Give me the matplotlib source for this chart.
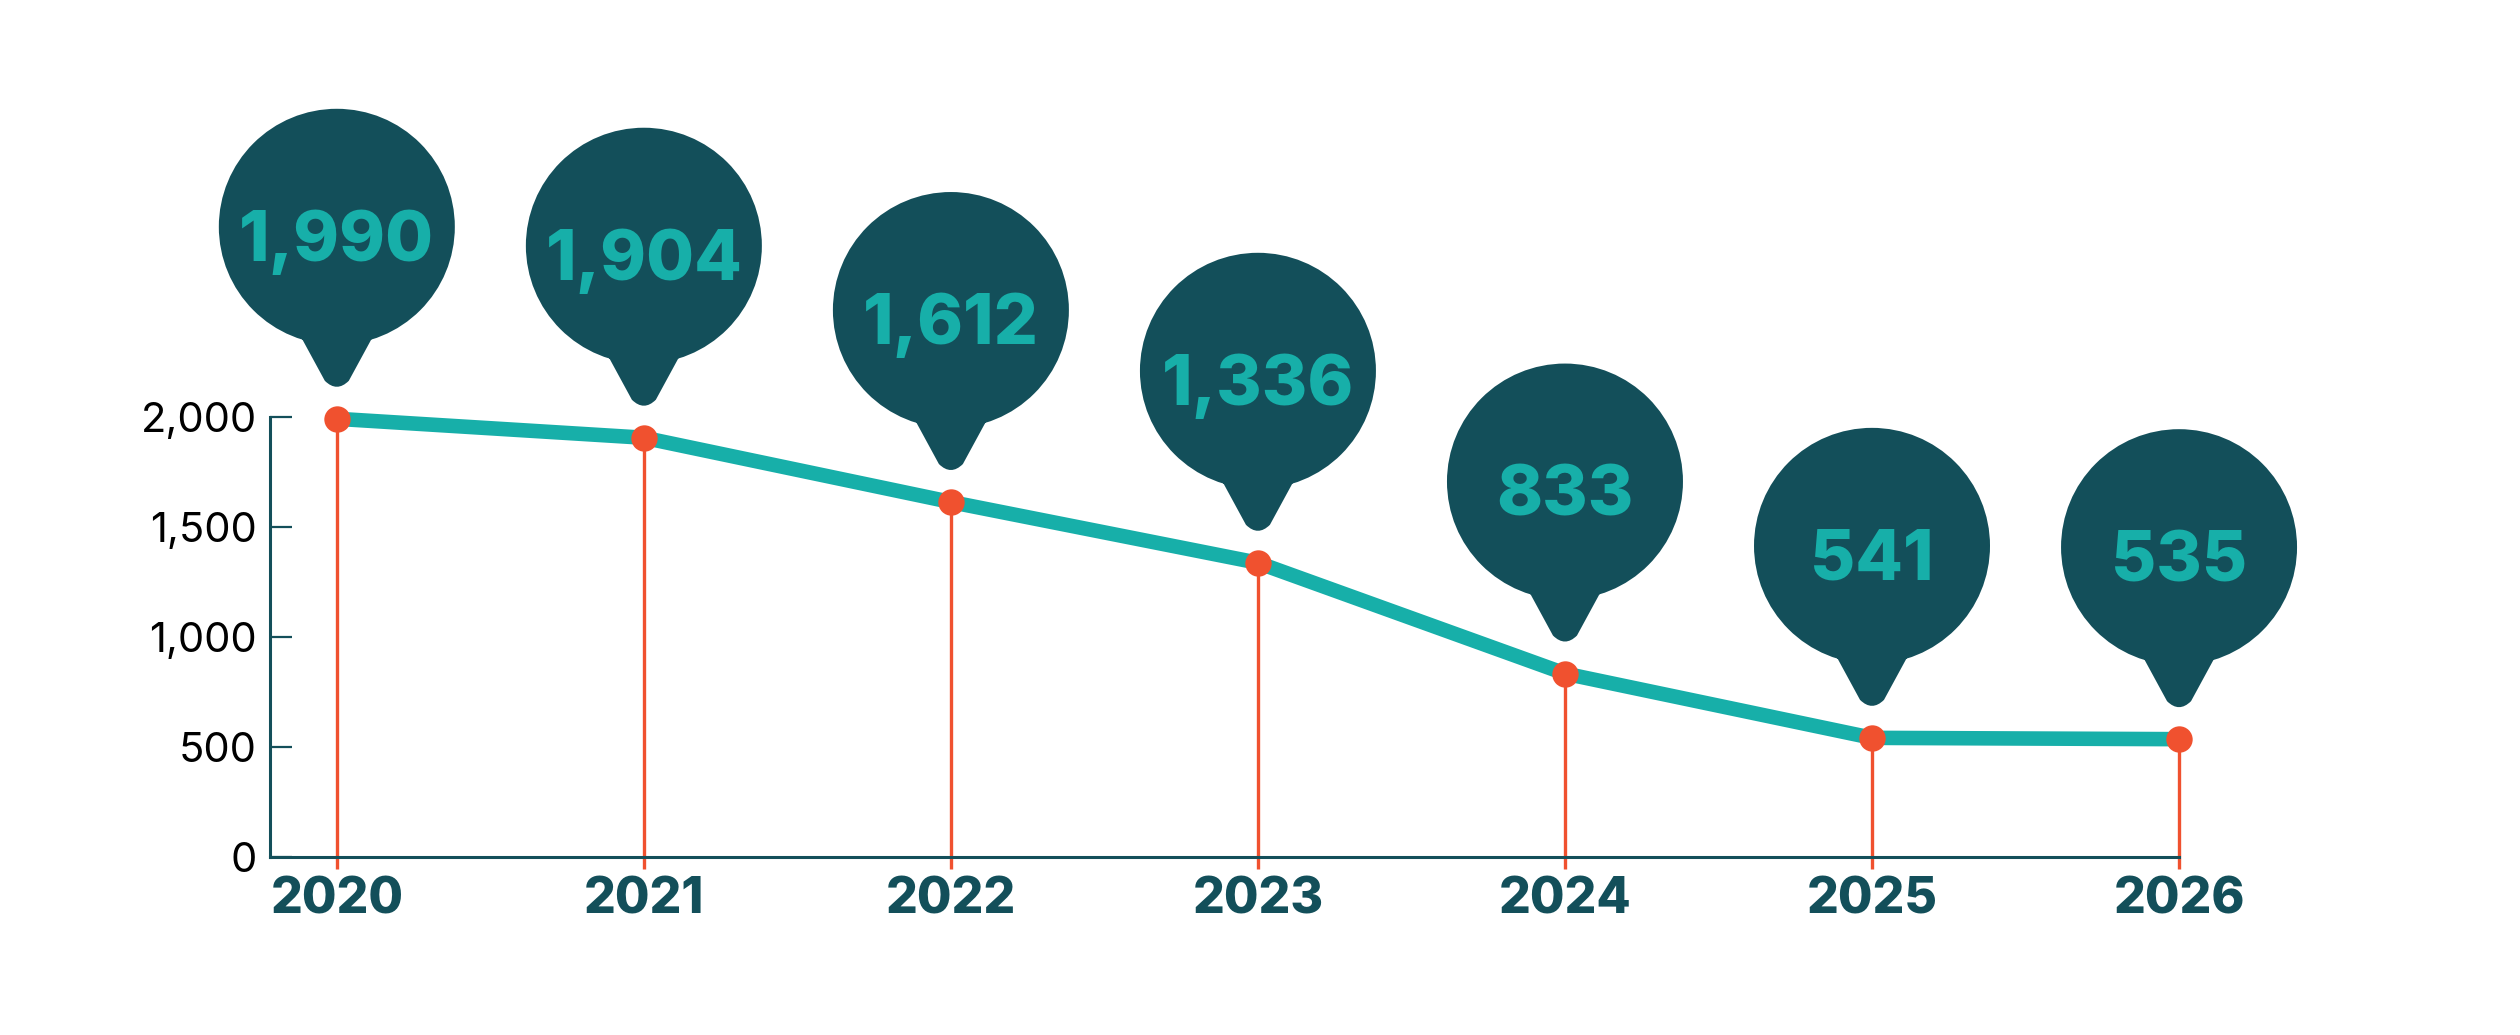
import matplotlib.pyplot as plt
import numpy as np
from matplotlib.patches import PathPatch
from matplotlib.path import Path
from matplotlib.transforms import Affine2D, ScaledTranslation

# data
years = ["2020", "2021", "2022", "2023", "2024", "2025", "2026"]
values = [1990, 1904, 1612, 1336, 833, 541, 535]
value_labels = ["1,990", "1,904", "1,612", "1,336", "833", "541", "535"]
y_ticks = [0, 500, 1000, 1500, 2000]
y_tick_labels = ["0", "500", "1,000", "1,500", "2,000"]

DARK = "#134F5A"
TEAL = "#17AFA9"
RED = "#F0512F"

plt.rcParams['font.family'] = ['Inter', 'DejaVu Sans']

fig = plt.figure(figsize=(25.2, 10.35), dpi=100)
ax = fig.add_axes([0.1071, 0.172, 0.7576, 0.4255])
x = np.arange(len(years))

# stems, line, points
ax.vlines(x, -54, values, color=RED, lw=2.4, zorder=2, clip_on=False)
ax.plot(x, values, color=TEAL, lw=10.5, solid_capstyle='butt', zorder=3, clip_on=False)
ax.plot(x, values, 'o', color=RED, ms=19, mec='none', zorder=4, clip_on=False)

# balloon shape in pixels, relative to the point
R, CY = 118, 192
circle = Path.circle((0, CY), R)
tail = Path([(-37, 84), (-12, 38), (0, 26), (12, 38), (37, 84), (-37, 84)],
            [Path.MOVETO, Path.LINETO, Path.CURVE3, Path.CURVE3, Path.LINETO, Path.CLOSEPOLY])
balloon = Path.make_compound_path(circle, tail)

px = fig.dpi / 100.0
for xi, vi, lab in zip(x, values, value_labels):
    tr = Affine2D().scale(px) + ScaledTranslation(xi, vi, ax.transData)
    p = PathPatch(balloon, facecolor=DARK, edgecolor='none', transform=tr,
                  clip_on=False, zorder=5)
    ax.add_artist(p)
    ax.annotate(lab, xy=(xi, vi), xytext=(0, 158 * 0.72), textcoords='offset points',
                ha='center', va='baseline', fontsize=50, fontweight='heavy',
                color=TEAL, zorder=6, annotation_clip=False)

ax.set_xlim(-0.218, len(years) - 1)
ax.set_ylim(0, 2000)

for s in ['top', 'right']:
    ax.spines[s].set_visible(False)
for s in ['left', 'bottom']:
    ax.spines[s].set_color(DARK)
    ax.spines[s].set_linewidth(2.2)
ax.spines['left'].set_bounds(0, 2000)

ax.set_yticks(y_ticks, y_tick_labels)
ax.tick_params(axis='y', direction='in', length=16, width=1.6, color=DARK,
               labelsize=30, pad=9.4, labelcolor='black')
ax.yaxis.get_major_ticks()[0].tick1line.set_color('black')

ax.set_xticks(x, years)
ax.tick_params(axis='x', length=0, pad=14, labelsize=36, labelcolor=DARK)
for t in ax.get_xticklabels():
    t.set_fontweight('heavy')

fig.savefig("out.png", dpi=100, facecolor='white')
